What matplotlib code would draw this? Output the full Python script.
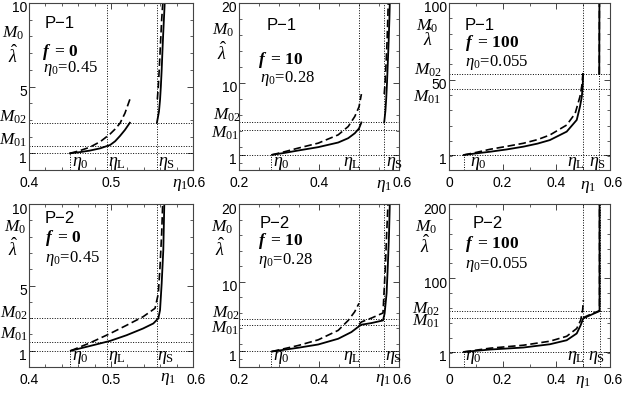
import matplotlib
matplotlib.use('Agg')
import matplotlib.pyplot as plt
import matplotlib.transforms as mtransforms
from matplotlib.ticker import FixedLocator, MultipleLocator

plt.rcParams['font.family'] = ['Liberation Sans', 'DejaVu Sans']
plt.rcParams['mathtext.fontset'] = 'custom'
plt.rcParams['mathtext.rm'] = 'Liberation Serif'
plt.rcParams['mathtext.it'] = 'Liberation Serif:italic'
plt.rcParams['mathtext.bf'] = 'Liberation Serif:bold'
plt.rcParams['mathtext.bfit'] = 'Liberation Serif:italic:bold'

W, H = 622, 395

# ---- P-1, f = 0 ----
p1a_eta = [0.45, 0.495, 0.556]          # eta0, etaL, etaS
p1a_M = [1.45, 2.83]                    # M01, M02
p1a_lo_sx = [0.450, 0.462, 0.474, 0.487, 0.499, 0.505, 0.511, 0.517, 0.523]
p1a_lo_sy = [1.00, 1.07, 1.16, 1.30, 1.50, 1.72, 2.04, 2.40, 2.83]
p1a_lo_dx = [0.450, 0.462, 0.474, 0.487, 0.499, 0.505, 0.511, 0.517, 0.523]
p1a_lo_dy = [1.00, 1.16, 1.36, 1.70, 2.16, 2.45, 2.80, 3.40, 4.23]
p1a_hi_sx = [0.556, 0.5585, 0.5598, 0.5608, 0.5618, 0.5628, 0.5638, 0.5648, 0.5655]
p1a_hi_sy = [2.83, 3.5, 4.2, 5.0, 6.0, 7.2, 8.3, 9.3, 10.0]
p1a_hi_dx = [0.5565, 0.5577, 0.5588, 0.5598, 0.5608, 0.5618, 0.5626, 0.5632]
p1a_hi_dy = [4.23, 5.0, 6.0, 7.0, 8.0, 9.0, 9.6, 10.0]

# ---- P-1, f = 10 ----
p1b_eta = [0.28, 0.500, 0.563]
p1b_M = [4.1, 5.05]
p1b_lo_sx = [0.2825, 0.315, 0.348, 0.398, 0.448, 0.473, 0.4895, 0.500, 0.506]
p1b_lo_sy = [1.0, 1.25, 1.54, 1.96, 2.54, 3.08, 3.7, 4.3, 5.05]
p1b_lo_dx = [0.2825, 0.315, 0.348, 0.398, 0.448, 0.473, 0.4895, 0.500, 0.506]
p1b_lo_dy = [1.0, 1.4, 1.84, 2.46, 3.5, 4.54, 5.8, 7.0, 8.6]
p1b_hi_sx = [0.563, 0.566, 0.568, 0.570, 0.572, 0.574, 0.576, 0.577]
p1b_hi_sy = [5.05, 6.5, 8.0, 10.0, 12.5, 15.0, 18.0, 20.0]
p1b_hi_dx = [0.563, 0.5645, 0.566, 0.568, 0.570, 0.572, 0.573]
p1b_hi_dy = [8.6, 9.5, 10.8, 12.8, 15.0, 18.0, 20.0]

# ---- P-1, f = 100 ----
p1c_eta = [0.055, 0.500, 0.560]
p1c_M = [43.8, 53.7]
p1c_lo_sx = [0.055, 0.10, 0.153, 0.215, 0.277, 0.33, 0.376, 0.4386, 0.476, 0.488, 0.495, 0.498, 0.500]
p1c_lo_sy = [1.0, 2.0, 3.1, 4.6, 6.4, 8.4, 10.7, 16.2, 23.8, 32.4, 39.0, 45.0, 53.7]
p1c_lo_dx = [0.055, 0.10, 0.153, 0.215, 0.277, 0.33, 0.376, 0.4386, 0.47, 0.488, 0.495, 0.498, 0.501]
p1c_lo_dy = [1.0, 2.6, 4.7, 6.6, 8.6, 11.0, 14.0, 20.5, 28.0, 39.0, 46.0, 52.0, 56.0]
p1c_hi_sx = [0.560, 0.5605]
p1c_hi_sy = [53.7, 100.0]
p1c_hi_dx = [0.560, 0.5605]
p1c_hi_dy = [53.7, 100.0]

# ---- P-2, f = 0 ----
p2a_eta = [0.45, 0.495, 0.556]
p2a_M = [1.54, 2.98]
p2a_sx = [0.451, 0.4744, 0.4988, 0.519, 0.539, 0.5516, 0.5577, 0.5598, 0.5618, 0.5638, 0.565]
p2a_sy = [1.0, 1.29, 1.6, 1.95, 2.36, 2.67, 2.98, 3.49, 5.13, 7.2, 10.0]
p2a_dx = [0.451, 0.4744, 0.4988, 0.519, 0.539, 0.5537, 0.5577, 0.5598, 0.5618, 0.563]
p2a_dy = [1.0, 1.48, 2.05, 2.56, 3.08, 3.6, 4.5, 6.16, 8.2, 10.0]

# ---- P-2, f = 10 ----
p2b_eta = [0.28, 0.500, 0.563]
p2b_M = [4.36, 5.23]
p2b_sx = [0.2825, 0.348, 0.398, 0.448, 0.481, 0.4975, 0.506, 0.531, 0.560, 0.564, 0.569, 0.572, 0.575, 0.577]
p2b_sy = [1.0, 1.48, 1.9, 2.64, 3.5, 4.15, 4.45, 4.66, 5.0, 5.88, 8.5, 12.0, 16.0, 20.0]
p2b_lo_dx = [0.2825, 0.348, 0.398, 0.448, 0.473, 0.489, 0.500]
p2b_lo_dy = [1.0, 1.77, 2.5, 3.72, 5.0, 6.1, 7.2]
p2b_hi_dx = [0.500, 0.506, 0.531, 0.560, 0.5625, 0.566, 0.569, 0.5725]
p2b_hi_dy = [4.5, 4.8, 5.3, 5.96, 8.5, 12.0, 16.0, 20.0]

# ---- P-2, f = 100 ----
p2c_eta = [0.055, 0.500, 0.561]
p2c_M = [46.0, 55.9]
p2c_sx = [0.055, 0.153, 0.277, 0.376, 0.4386, 0.476, 0.4907, 0.498, 0.500, 0.530, 0.561, 0.561]
p2c_sy = [1.0, 4.2, 6.9, 11.3, 16.7, 25.8, 37.0, 44.0, 46.0, 51.0, 55.9, 200.0]
p2c_lo_dx = [0.055, 0.153, 0.277, 0.376, 0.4386, 0.476, 0.4907, 0.498, 0.5006]
p2c_lo_dy = [1.0, 6.0, 10.0, 15.4, 22.0, 32.5, 43.7, 57.0, 70.7]
p2c_hi_dx = [0.500, 0.530, 0.561, 0.561]
p2c_hi_dy = [47.0, 52.0, 56.5, 200.0]

fig = plt.figure(figsize=(W / 100, H / 100), dpi=100)


def px(x, y):
    return x / W, 1 - y / H


def make_axes(x0, y0, x1, y1):
    l, b = px(x0, y1)
    return fig.add_axes([l, b, (x1 - x0) / W, (y1 - y0) / H])


dot = dict(color='black', lw=0.7, ls=(0, (1, 1.6)))
solid = dict(color='black', lw=1.3)
dash = dict(color='black', lw=1.2, ls=(0, (4.5, 2.2)))


def shift(label, dx, dy):
    off = mtransforms.ScaledTranslation(dx / 100, dy / 100, fig.dpi_scale_trans)
    label.set_transform(label.get_transform() + off)


def frame(ax, xlim, ylim, xt, yt, xminor, yminor, eta, M):
    ax.set_xlim(*xlim)
    ax.set_ylim(*ylim)
    ax.xaxis.set_major_locator(FixedLocator(xt))
    ax.yaxis.set_major_locator(FixedLocator(yt))
    ax.xaxis.set_minor_locator(MultipleLocator(xminor))
    ax.yaxis.set_minor_locator(MultipleLocator(yminor))
    ax.set_xticklabels(['0' if v == 0 else '{:g}'.format(v) for v in xt])
    ax.set_yticklabels(['{:g}'.format(v) for v in yt])
    ax.tick_params(which='both', direction='in', top=True, right=True,
                   labelsize=10, color='#444444')
    ax.tick_params(axis='y', pad=1.5)
    ax.tick_params(axis='x', pad=4)
    ax.tick_params(which='major', length=4, width=0.7)
    ax.tick_params(which='minor', length=2, width=0.6)
    for s in ax.spines.values():
        s.set_color('#444444')
        s.set_linewidth(0.8)
    # labels sit a little below their ticks in the original
    for lab in ax.get_yticklabels():
        shift(lab, 0, -4)
    shift(ax.get_xticklabels()[-1], 3, 0)
    # guide lines
    ax.axhline(1, **dot)
    ax.axhline(M[0], **dot)
    ax.axhline(M[1], **dot)
    ax.plot([eta[0], eta[0]], [ylim[0], 1], **dot)
    ax.axvline(eta[1], **dot)
    ax.axvline(eta[2], **dot)


def ftext(x, y, s, **kw):
    fx, fy = px(x, y)
    kw.setdefault('va', 'center')
    fig.text(fx, fy, s, **kw)


panels = [
    ((29, 3, 193, 170), (0.4, 0.6), (0, 10), [0.4, 0.5, 0.6], [1, 5, 10], 0.02, 1,
     p1a_eta, p1a_M),
    ((239, 3, 399, 170), (0.2, 0.6), (-0.9, 20), [0.2, 0.4, 0.6], [1, 10, 20], 0.05, 2,
     p1b_eta, p1b_M),
    ((449, 3, 610, 170), (0, 0.6), (-8.8, 100), [0, 0.2, 0.4, 0.6], [1, 50, 100], 0.1, 10,
     p1c_eta, p1c_M),
    ((29, 204, 193, 367), (0.4, 0.6), (0, 10), [0.4, 0.5, 0.6], [1, 5, 10], 0.02, 1,
     p2a_eta, p2a_M),
    ((239, 204, 399, 367), (0.2, 0.6), (-1, 20), [0.2, 0.4, 0.6], [1, 10, 20], 0.05, 2,
     p2b_eta, p2b_M),
    ((449, 204, 610, 367), (0, 0.6), (-19.3, 200), [0, 0.2, 0.4, 0.6], [1, 100, 200], 0.1, 20,
     p2c_eta, p2c_M),
]

axs = []
for box, xl, yl, xt, yt, xm, ym, eta, M in panels:
    ax = make_axes(*box)
    frame(ax, xl, yl, xt, yt, xm, ym, eta, M)
    axs.append(ax)

# curves
axs[0].plot(p1a_lo_sx, p1a_lo_sy, **solid)
axs[0].plot(p1a_lo_dx, p1a_lo_dy, **dash)
axs[0].plot(p1a_hi_sx, p1a_hi_sy, **solid)
axs[0].plot(p1a_hi_dx, p1a_hi_dy, **dash)

axs[1].plot(p1b_lo_sx, p1b_lo_sy, **solid)
axs[1].plot(p1b_lo_dx, p1b_lo_dy, **dash)
axs[1].plot(p1b_hi_sx, p1b_hi_sy, **solid)
axs[1].plot(p1b_hi_dx, p1b_hi_dy, **dash)

axs[2].plot(p1c_lo_sx, p1c_lo_sy, **solid)
axs[2].plot(p1c_lo_dx, p1c_lo_dy, **dash)
axs[2].plot(p1c_hi_sx, p1c_hi_sy, **solid)
axs[2].plot(p1c_hi_dx, p1c_hi_dy, **dash)

axs[3].plot(p2a_sx, p2a_sy, **solid)
axs[3].plot(p2a_dx, p2a_dy, **dash)

axs[4].plot(p2b_sx, p2b_sy, **solid)
axs[4].plot(p2b_lo_dx, p2b_lo_dy, **dash)
axs[4].plot(p2b_hi_dx, p2b_hi_dy, **dash)

axs[5].plot(p2c_sx, p2c_sy, **solid)
axs[5].plot(p2c_lo_dx, p2c_lo_dy, **dash)
axs[5].plot(p2c_hi_dx, p2c_hi_dy, **dash)

# in-panel labels
info = [
    ((45, 23), (42, 52), (43, 69), 'P\u22121', '0', '0.45'),
    ((267, 25), (258, 60), (260, 78), 'P\u22121', '10', '0.28'),
    ((465, 25), (465, 43), (465, 62), 'P\u22121', '100', '0.055'),
    ((45, 218), (45, 238), (45, 258), 'P\u22122', '0', '0.45'),
    ((260, 223), (258, 241), (258, 261), 'P\u22122', '10', '0.28'),
    ((473, 223), (465, 244), (465, 264), 'P\u22122', '100', '0.055'),
]
for pp, fp, ep, ptxt, fval, e0 in info:
    ftext(*pp, ptxt, fontsize=12, ha='left')
    ftext(*fp, r'$\mathbfit{f}\ \mathbf{=}\ \!\mathbf{%s}$' % fval, fontsize=12.5, ha='left')
    ftext(*ep, r'$\eta_0\!=\!0.%s$' % e0.split('.')[1], fontsize=12, ha='left')

# labels left of the frames: M0, lambda hat, M02, M01
left = [
    ((13, 33), (13, 56), (13, 117), (13, 140)),
    ((223, 30), (222, 53), (227, 115), (225, 133)),
    ((427, 26), (428, 39), (428, 70), (427, 97)),
    ((15, 227), (13, 249), (14, 313), (14, 334)),
    ((222, 227), (220, 249), (226, 313), (225, 328)),
    ((426, 227), (425, 246), (426, 309), (426, 321)),
]
for m0, lam, m2, m1 in left:
    ftext(*m0, r'$M_0$', fontsize=12.5, ha='center')
    ftext(*lam, r'$\hat{\lambda}$', fontsize=13, ha='center')
    ftext(*m2, r'$M_{02}$', fontsize=12.5, ha='center')
    ftext(*m1, r'$M_{01}$', fontsize=12.5, ha='center')

# eta labels along the bottom of each frame
bottom = [
    ((72, 163), (108, 163), (158, 163), (180, 185)),
    ((273, 163), (343, 163), (386, 163), (384, 186)),
    ((470, 163), (567, 163), (589, 163), (588, 187)),
    ((72, 358), (108, 358), (157, 358), (168, 379)),
    ((273, 358), (343, 358), (385, 358), (383, 380)),
    ((465, 358), (567, 358), (588, 358), (583, 382)),
]
for e0, eL, eS, e1 in bottom:
    ftext(*e0, r'$\eta_0$', fontsize=13, ha='left')
    ftext(*eL, r'$\eta_{\rm L}$', fontsize=13, ha='left')
    ftext(*eS, r'$\eta_{\rm S}$', fontsize=13, ha='left')
    ftext(*e1, r'$\eta_1$', fontsize=12.5, ha='center')

fig.savefig('out.png', dpi=100)
